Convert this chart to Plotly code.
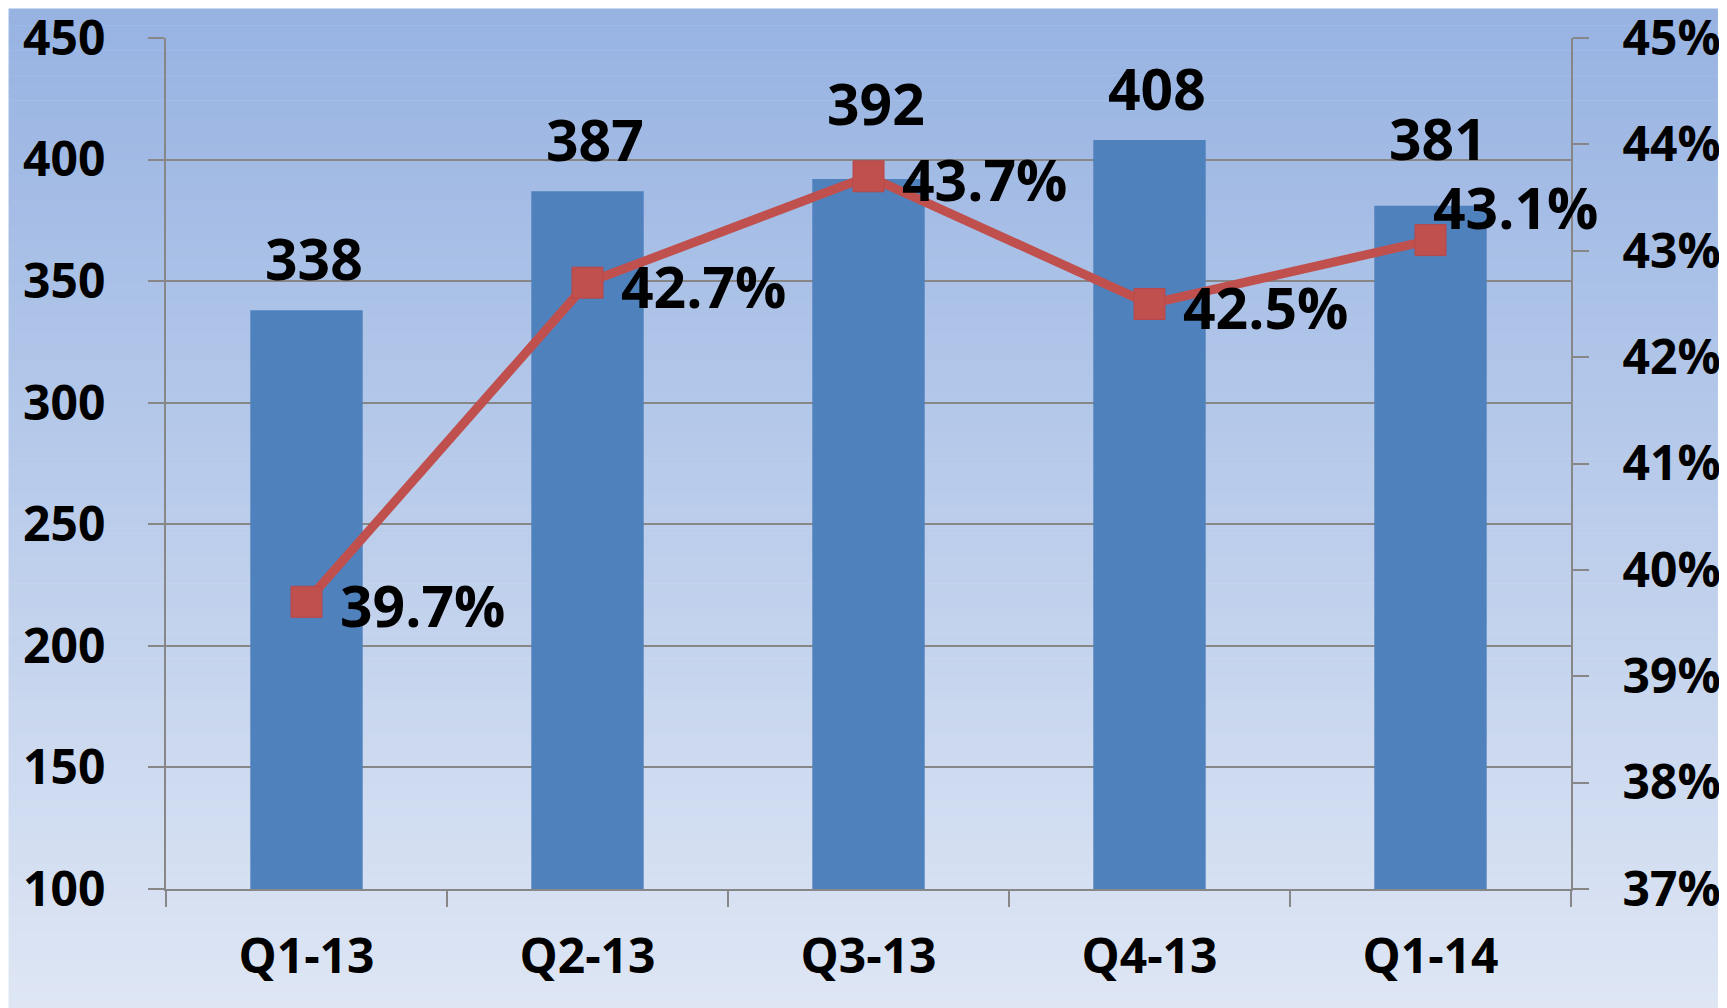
import plotly.graph_objects as go

# ---- data ----
quarters = ["Q1-13", "Q2-13", "Q3-13", "Q4-13", "Q1-14"]
revenue = [338, 387, 392, 408, 381]
margin_pct = [39.7, 42.7, 43.7, 42.5, 43.1]
left_ticks = [100, 150, 200, 250, 300, 350, 400, 450]
right_ticks = [37, 38, 39, 40, 41, 42, 43, 44, 45]
right_tick_labels = [f"{v}%" for v in right_ticks]

# ---- style ----
BAR = "#4F81BD"
LINE = "#C0504D"
GRID = "#878787"
FONT = "Open Sans"
OFF = 8  # page body margin
W, H = 1727 - OFF, 1008 - OFF
ML, MR, MT, MB = 165.5 - OFF, 156, 37.5 - OFF, 119
PW = W - ML - MR
PH = H - MT - MB

# label nudges (Excel hand-placed labels)
bar_label_lift = {2: 24, 4: 16}

fig = go.Figure()
fig.add_trace(go.Bar(x=quarters, y=revenue, marker=dict(color=BAR, line=dict(width=0)),
                     yaxis="y", showlegend=False, hoverinfo="x+y"))
fig.add_trace(go.Scatter(x=quarters, y=margin_pct, yaxis="y2", mode="lines+markers",
                         line=dict(color=LINE, width=9),
                         marker=dict(symbol="square", size=31, color=LINE,
                                     line=dict(color="#B8474A", width=1)),
                         showlegend=False))

# background gradient (top -> bottom), drawn in paper coordinates
top_c = (151, 179, 226)
bot_c = (222, 230, 244)
x0p, x1p = 0, 1718 - OFF
y0p, y1p = 0, H
N = 120
shapes = []
for i in range(N):
    t = i / (N - 1)
    c = tuple(round(top_c[k] + (bot_c[k] - top_c[k]) * t) for k in range(3))
    ya = y0p + (y1p - y0p) * i / N
    yb = y0p + (y1p - y0p) * (i + 1) / N + 0.6
    shapes.append(dict(type="rect", xref="paper", yref="paper", layer="below",
                       x0=(x0p - ML) / PW, x1=(x1p - ML) / PW,
                       y0=(H - MB - yb) / PH, y1=(H - MB - ya) / PH,
                       fillcolor="rgb(%d,%d,%d)" % c, line=dict(width=0)))

annotations = []
for i, (q, v) in enumerate(zip(quarters, revenue)):
    annotations.append(dict(x=q, y=v, xref="x", yref="y", text=str(v), showarrow=False,
                            xanchor="center", yanchor="bottom", xshift=7,
                            yshift=11 + bar_label_lift.get(i, 0),
                            font=dict(family=FONT, size=57, color="black", weight="bold")))
for i, (q, v) in enumerate(zip(quarters, margin_pct)):
    last = i == len(quarters) - 1
    annotations.append(dict(x=q, y=v, xref="x", yref="y2", text=f"{v:.1f}%", showarrow=False,
                            xanchor="left", yanchor="middle",
                            xshift=0 if last else 31, yshift=33 if last else -3,
                            font=dict(family=FONT, size=57, color="black", weight="bold")))

tickfont = dict(family=FONT, size=48, color="black", weight="bold")
fig.update_layout(
    width=W, height=H,
    margin=dict(l=ML, r=MR, t=MT, b=MB, pad=0, autoexpand=False),
    paper_bgcolor="white", plot_bgcolor="rgba(0,0,0,0)",
    bargap=0.6,
    shapes=shapes,
    annotations=annotations,
    xaxis=dict(type="category", range=[-0.5, len(quarters) - 0.5],
               showline=True, linecolor=GRID, linewidth=2,
               ticks="outside", tickson="boundaries", ticklen=16, tickcolor=GRID, tickwidth=2,
               tickfont=tickfont, ticklabelstandoff=24, showgrid=False, zeroline=False,
               automargin=False, ticklabeloverflow="allow"),
    yaxis=dict(range=[100, 450], tickvals=left_ticks, showline=True, linecolor=GRID, linewidth=2,
               ticks="outside", ticklen=16, tickcolor=GRID, tickwidth=2,
               showgrid=True, gridcolor=GRID, gridwidth=2, zeroline=False,
               tickfont=tickfont, ticklabelstandoff=33, automargin=False,
               ticklabeloverflow="allow"),
    yaxis2=dict(range=[37, 45], tickvals=right_ticks, ticktext=right_tick_labels,
                overlaying="y", side="right",
                showline=True, linecolor=GRID, linewidth=2,
                ticks="outside", ticklen=16, tickcolor=GRID, tickwidth=2,
                showgrid=False, zeroline=False, tickfont=tickfont, ticklabelstandoff=24,
                automargin=False, ticklabeloverflow="allow"),
)

fig.write_html("out.html")
